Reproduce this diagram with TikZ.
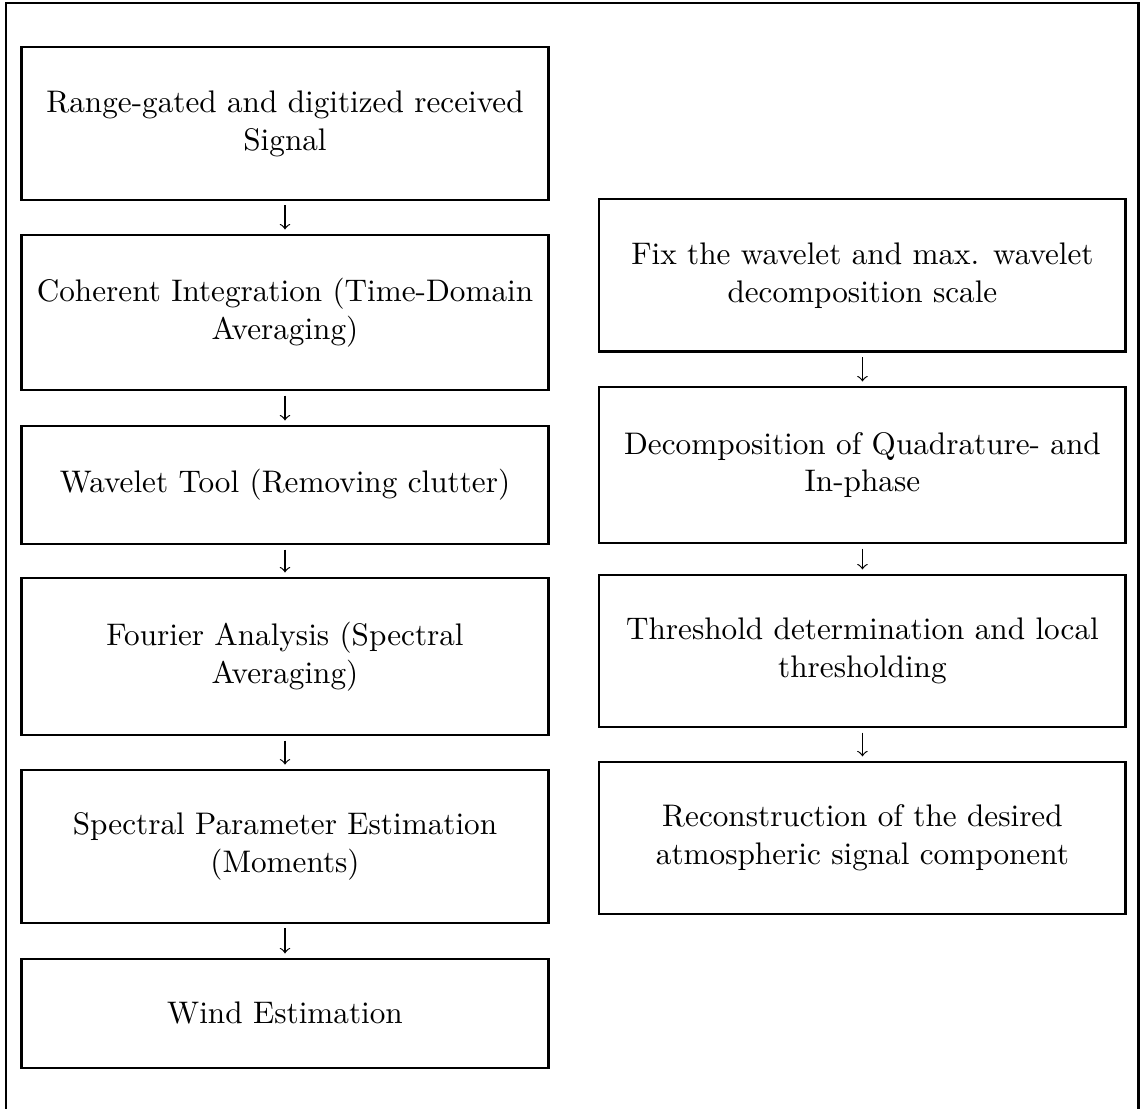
\documentclass[tikz,border=0pt]{standalone}
\usepackage{tikz}
\usetikzlibrary{arrows}

\begin{document}
\begin{tikzpicture}[
		box/.style={draw, line width=0.9pt, align=center, minimum width=6.17cm, inner sep=0pt, font=\fontsize{10.4pt}{12.6pt}\selectfont},
		flow/.style={->, line width=0.4pt, shorten <=1.4pt, shorten >=1.4pt}]
		%%%%% START %%%%%
		
		\useasboundingbox (0, 0) rectangle (13.379, 12.992);
		\draw[line width=0.9pt] (0.07, -0.1) -- (0.07, 12.957) -- (13.34, 12.957) -- (13.34, -0.1);
		
		\node[box, minimum height=1.79cm] (range) at (3.339, 11.545) {Range-gated and digitized received\\Signal};
		\node[box, minimum height=1.816cm] (coherent) at (3.339, 9.331) {Coherent Integration (Time-Domain\\Averaging)};
		\node[box, minimum height=1.382cm] (wavelet) at (3.339, 7.310) {Wavelet Tool (Removing clutter)};
		\node[box, minimum height=1.839cm] (fourier) at (3.339, 5.301) {Fourier Analysis (Spectral\\Averaging)};
		\node[box, minimum height=1.79cm] (spectral) at (3.339, 3.075) {Spectral Parameter Estimation\\(Moments)};
		\node[box, minimum height=1.277cm] (wind) at (3.339, 1.119) {Wind Estimation};
		
		\node[box, minimum height=1.79cm] (fixwav) at (10.104, 9.765) {Fix the wavelet and max. wavelet\\decomposition scale};
		\node[box, minimum height=1.828cm] (decomp) at (10.104, 7.544) {Decomposition of Quadrature- and\\In-phase};
		\node[box, minimum height=1.781cm] (thresh) at (10.104, 5.365) {Threshold determination and local\\thresholding};
		\node[box, minimum height=1.781cm] (recon) at (10.104, 3.175) {Reconstruction of the desired\\atmospheric signal component};
		
		\draw[flow] (range) -- (coherent);
		\draw[flow] (coherent) -- (wavelet);
		\draw[flow] (wavelet) -- (fourier);
		\draw[flow] (fourier) -- (spectral);
		\draw[flow] (spectral) -- (wind);
		
		\draw[flow] (fixwav) -- (decomp);
		\draw[flow] (decomp) -- (thresh);
		\draw[flow] (thresh) -- (recon);
		
		%%%%% END %%%%%
	\end{tikzpicture}
\end{document}
